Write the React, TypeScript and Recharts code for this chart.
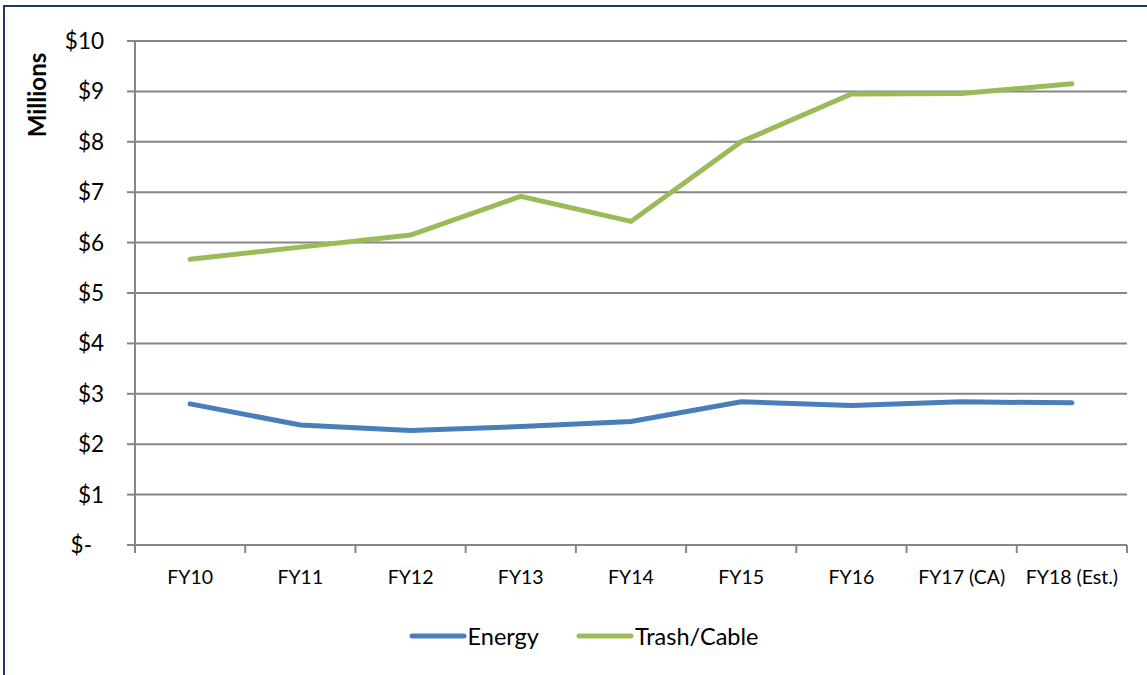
import { CartesianGrid, Legend, Line, LineChart, XAxis, YAxis } from "recharts";

const categories = [
  "FY10",
  "FY11",
  "FY12",
  "FY13",
  "FY14",
  "FY15",
  "FY16",
  "FY17 (CA)",
  "FY18 (Est.)",
];
const energy = [2.8, 2.38, 2.27, 2.35, 2.45, 2.84, 2.77, 2.84, 2.82];
const trashCable = [5.67, 5.91, 6.15, 6.92, 6.42, 8.0, 8.95, 8.96, 9.15];
const yTicks = [0, 1, 2, 3, 4, 5, 6, 7, 8, 9, 10];

const data = categories.map((name, i) => ({
  name,
  energy: energy[i],
  trash: trashCable[i],
}));

const W = 1147;
const H = 675;
const PLOT_LEFT = 135;
const PLOT_RIGHT = 1127;
const STEP = (PLOT_RIGHT - PLOT_LEFT) / categories.length;
const AXIS = "#868686";
const FONT = "Lato, 'Open Sans', sans-serif";

const XTick = (props: any) => {
  const { x, y, payload, index } = props;
  const last = index === categories.length - 1;
  return (
    <g>
      <line x1={x - STEP / 2} x2={x - STEP / 2} y1={y} y2={y + 8} stroke={AXIS} strokeWidth={2} />
      {last && (
        <line x1={x + STEP / 2} x2={x + STEP / 2} y1={y} y2={y + 8} stroke={AXIS} strokeWidth={2} />
      )}
      <text x={x} y={y + 39} textAnchor="middle" fontSize={19.5} fill="#000" fontFamily={FONT}>
        {payload.value}
      </text>
    </g>
  );
};

const YTick = (props: any) => {
  const { x, y, payload } = props;
  const zero = payload.value === 0;
  return (
    <text
      x={zero ? x - 12 : x}
      y={y + 8}
      textAnchor="end"
      fontSize={22.5}
      fill="#000"
      fontFamily={FONT}
    >
      {zero ? "$-" : `$${payload.value}`}
    </text>
  );
};

const LegendContent = () => (
  <div
    style={{
      display: "flex",
      justifyContent: "center",
      alignItems: "center",
      gap: 37,
      paddingLeft: 20,
      fontFamily: FONT,
      fontSize: 23.5,
      color: "#000",
    }}
  >
    {[
      { label: "Energy", color: "#4A7EBB" },
      { label: "Trash/Cable", color: "#9BBB59" },
    ].map((it) => (
      <span key={it.label} style={{ display: "flex", alignItems: "center" }}>
        <svg width={58} height={10} style={{ marginRight: 1 }}>
          <line x1={3} x2={55} y1={5} y2={5} stroke={it.color} strokeWidth={5} strokeLinecap="round" />
        </svg>
        {it.label}
      </span>
    ))}
  </div>
);

export default function App() {
  return (
    <div
      style={{
        position: "fixed",
        left: 0,
        top: 0,
        width: W,
        height: H,
        overflow: "hidden",
        background: "#fff",
      }}
    >
      <div
        style={{
          position: "absolute",
          left: 3,
          top: 5,
          width: W + 20,
          height: H + 20,
          borderLeft: "2px solid #1F3864",
          borderTop: "2px solid #1F3864",
        }}
      />
      <LineChart
        width={W}
        height={H}
        data={data}
        margin={{ top: 41, right: W - PLOT_RIGHT, left: PLOT_LEFT - 60, bottom: 30 }}
        style={{ position: "absolute", left: 0, top: 0 }}
      >
        <CartesianGrid horizontal vertical={false} stroke={AXIS} strokeWidth={2} />
        <XAxis
          dataKey="name"
          scale="point"
          padding={{ left: STEP / 2, right: STEP / 2 }}
          height={50}
          tickSize={0}
          tickMargin={0}
          tickLine={false}
          axisLine={{ stroke: AXIS, strokeWidth: 2 }}
          tick={<XTick />}
          interval={0}
        />
        <YAxis
          width={60}
          domain={[0, 10]}
          ticks={yTicks}
          interval={0}
          tickSize={8}
          tickMargin={23}
          tickLine={{ stroke: AXIS, strokeWidth: 2 }}
          axisLine={{ stroke: AXIS, strokeWidth: 2 }}
          tick={<YTick />}
          label={{
            content: () => (
              <text
                x={46}
                y={95}
                transform="rotate(-90 46 95)"
                textAnchor="middle"
                fontSize={24}
                fontWeight="bold"
                fontFamily={FONT}
                fill="#000"
              >
                Millions
              </text>
            ),
          }}
        />
        <Legend
          verticalAlign="bottom"
          height={50}
          content={<LegendContent />}
          wrapperStyle={{ top: 622, left: 0, width: W, bottom: "auto" }}
        />
        <Line
          dataKey="energy"
          name="Energy"
          stroke="#4A7EBB"
          strokeWidth={5}
          dot={false}
          strokeLinecap="round"
          isAnimationActive={false}
        />
        <Line
          dataKey="trash"
          name="Trash/Cable"
          stroke="#9BBB59"
          strokeWidth={5}
          dot={false}
          strokeLinecap="round"
          isAnimationActive={false}
        />
      </LineChart>
    </div>
  );
}
